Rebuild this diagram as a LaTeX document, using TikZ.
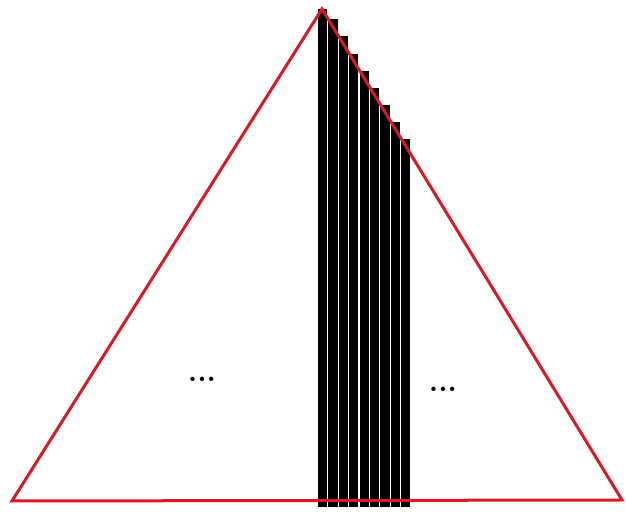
\documentclass[tikz,border=0pt]{standalone}
\definecolor{tri}{RGB}{220,24,36}
\begin{document}
\begin{tikzpicture}[x=1pt,y=1pt,
  edge/.style={draw=tri,line width=3pt,line join=miter},
  bar/.style={fill=black,draw=none},
  dots/.style={font=\fontsize{30}{30}\selectfont\bfseries,inner sep=0pt}]
\useasboundingbox (0,0) rectangle (626,513);
\coordinate (A) at (12,12);
\coordinate (B) at (622,13);
\coordinate (C) at (322,504);
% bars
\foreach \i in {0,...,8}{
  \pgfmathsetmacro{\xl}{318+\i*10.4}
  \pgfmathsetmacro{\yt}{504-(\xl-322)*1.6367}
  \pgfmathsetmacro{\ytt}{min(\yt,504)}
  \fill[bar] (\xl,6) rectangle ({\xl+9.2},\ytt);
}
\draw[edge] (A) -- (B) -- (C) -- cycle;
\node[dots] (d1) at (202,134) {...};
\node[dots] (d2) at (443,124) {...};
\end{tikzpicture}
\end{document}
